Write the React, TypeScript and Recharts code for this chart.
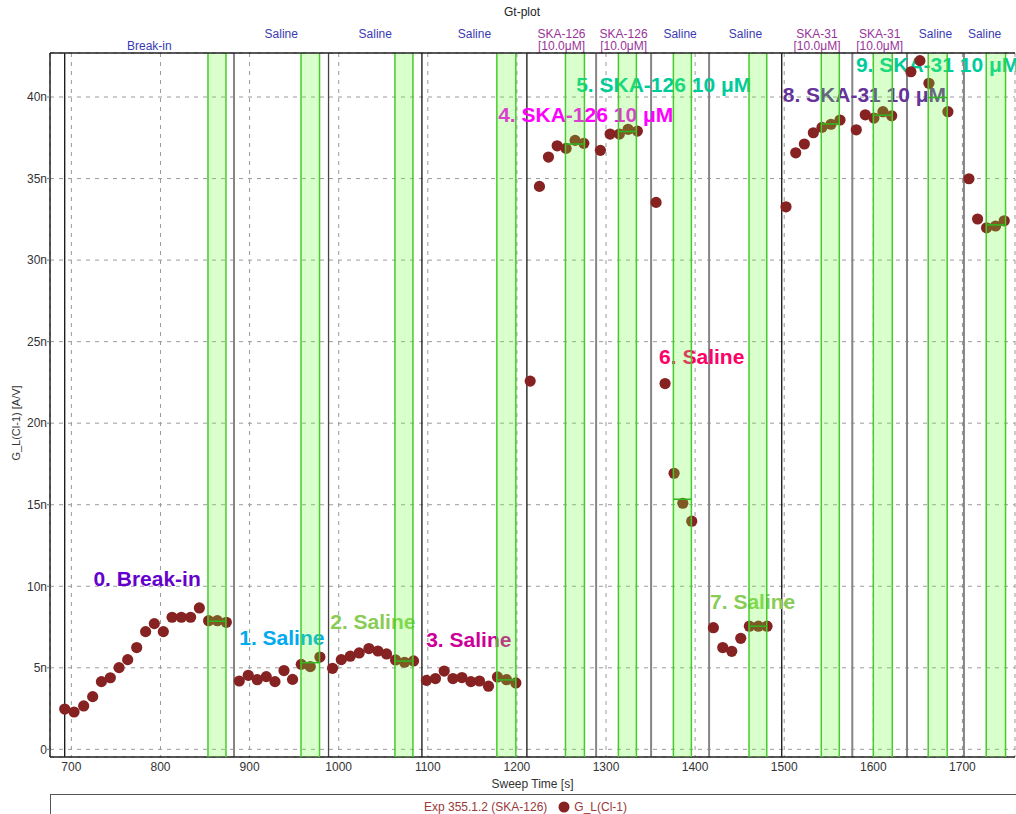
import React from 'react';
import {
  ComposedChart,
  Scatter,
  XAxis,
  YAxis,
  CartesianGrid,
  ReferenceLine,
  ReferenceArea,
  ReferenceDot,
  Legend,
} from 'recharts';

const FONT = '"Liberation Sans", Arial, Helvetica, sans-serif';

// ---------- axes ----------
const xTicks = [700, 800, 900, 1000, 1100, 1200, 1300, 1400, 1500, 1600, 1700];
const yTicks = [0, 5, 10, 15, 20, 25, 30, 35, 40];
const xDomain: [number, number] = [676, 1759];
const yDomain: [number, number] = [-0.47, 42.7];

// ---------- data: G_L(Cl-1) [nA/V] vs sweep time [s] ----------
const sweepTime = [
  692.5, 703, 713.8, 723.9, 733.7, 743.7, 753.5, 763.2, 773.3, 783.3, 793.1, 803.2, 813, 823.4, 833.8, 843.6, 854, 863.8, 873.9,
  888.4, 898.5, 908.6, 918.7, 928.5, 938.6, 948.2, 958, 968.1, 978.9,
  993.1, 1002.9, 1013, 1023, 1033.9, 1044, 1053.7, 1063.8, 1073.9, 1084,
  1098.5, 1108.6, 1118.4, 1128.2, 1138.3, 1148.4, 1158, 1168.1, 1178.2, 1188.3, 1198.8,
  1214.9, 1225.3, 1235.4, 1245.2, 1255.2, 1265.3, 1275.1,
  1293.7, 1304.6, 1315, 1324.8, 1335.2,
  1356.2, 1366.3, 1376.4, 1386.2, 1396.2,
  1420.5, 1431, 1441.1, 1451.2, 1460.9, 1471, 1480.7,
  1502, 1512.9, 1522.6, 1532.7, 1542.4, 1552.5, 1562.6,
  1580.9, 1591, 1600.7, 1610.8, 1620.6,
  1642.2, 1652.3, 1662.4, 1683.7,
  1707.3, 1717, 1727.1, 1737.2, 1746.9,
];
const conductance = [
  2.47, 2.29, 2.66, 3.23, 4.15, 4.39, 5.01, 5.5, 6.24, 7.22, 7.71, 7.22, 8.1, 8.1, 8.1, 8.67, 7.89, 7.89, 7.79,
  4.19, 4.54, 4.27, 4.46, 4.15, 4.83, 4.29, 5.21, 5.07, 5.66,
  4.97, 5.5, 5.71, 5.91, 6.18, 6.03, 5.85, 5.48, 5.34, 5.42,
  4.23, 4.34, 4.8, 4.34, 4.4, 4.15, 4.19, 3.87, 4.44, 4.27, 4.07,
  22.58, 34.52, 36.32, 37.01, 36.85, 37.34, 37.16,
  36.73, 37.73, 37.73, 38.02, 37.91,
  33.54, 22.43, 16.93, 15.09, 13.99,
  7.46, 6.24, 6.01, 6.81, 7.55, 7.55, 7.55,
  33.27, 36.58, 37.12, 37.81, 38.14, 38.33, 38.59,
  37.99, 38.91, 38.71, 39.1, 38.85,
  41.55, 42.23, 40.84, 39.1,
  34.99, 32.52, 31.98, 32.09, 32.41,
];

// ---------- segments (solution changes) ----------
const segmentBounds = [692.5, 882.5, 988.6, 1093.4, 1211.2, 1288.9, 1350.6, 1415.7, 1497.2, 1576.4, 1637.8, 1701.7, 1748];
const segmentLabels: string[][] = [
  ['', 'Break-in'],
  ['Saline'],
  ['Saline'],
  ['Saline'],
  ['SKA-126', '[10.0μM]'],
  ['SKA-126', '[10.0μM]'],
  ['Saline'],
  ['Saline'],
  ['SKA-31', '[10.0μM]'],
  ['SKA-31', '[10.0μM]'],
  ['Saline'],
  ['Saline'],
];
const boundaryColors = ['#111111', '#858585', '#444444', '#111111', '#111111', '#858585', '#858585', '#858585', '#111111', '#858585', '#858585', '#858585'];

// ---------- analysis windows ----------
const bandStart = [853.3, 957.7, 1063.1, 1177.5, 1254.5, 1313.9, 1375.6, 1460.5, 1541.6, 1600, 1661.6, 1726.7];
const bandEnd = [873.5, 978.5, 1083.3, 1198.8, 1275.8, 1334.1, 1395.8, 1480.4, 1561.8, 1621.3, 1682.9, 1748.4];

// ---------- annotations ----------
const annotationText = [
  '0. Break-in',
  '1. Saline',
  '2. Saline',
  '3. Saline',
  '4. SKA-126 10 μM',
  '5. SKA-126 10 μM',
  '6. Saline',
  '7. Saline',
  '8. SKA-31 10 μM',
  '9. SKA-31 10 μM',
];
const annotationX = [724.7, 888.4, 990.5, 1098.2, 1179, 1266.5, 1359.6, 1416.8, 1498.3, 1580.5];
const annotationY = [10.0, 6.38, 7.4, 6.28, 38.48, 40.33, 23.6, 8.63, 39.72, 41.55];
const annotationColors = ['#6600cc', '#00aaee', '#88cc55', '#cc0099', '#ff00ff', '#00cc99', '#ff0066', '#88cc55', '#663399', '#00cc99'];

const points = sweepTime.map((t, i) => ({ t, g: conductance[i] }));

const bandMeans = bandStart.map((s, i) => {
  const e = bandEnd[i];
  const inside = points.filter((p) => p.t >= s - 1.5 && p.t <= e + 1.5).map((p) => p.g);
  return inside.reduce((a, b) => a + b, 0) / Math.max(1, inside.length);
});

const DOT_COLOR = '#862222';

const DotShape = (props: any) => {
  const { cx, cy } = props;
  if (cx == null || cy == null) return null;
  return <circle cx={cx} cy={cy} r={5.6} fill={DOT_COLOR} />;
};

const makeSegmentLabel = (lines: string[]) => (props: any) => {
  const vb = props.viewBox || {};
  const cx = vb.x + vb.width / 2;
  const isDrug = lines[0].startsWith('SKA');
  const color = isDrug ? '#993399' : '#3a3ab4';
  return (
    <g>
      {lines.map((ln, k) =>
        ln ? (
          <text
            key={k}
            x={cx}
            y={vb.y - 15 + k * 12}
            textAnchor="middle"
            fontFamily={FONT}
            fontSize={12}
            fill={color}
          >
            {ln}
          </text>
        ) : null
      )}
    </g>
  );
};

const makeAnnotation = (text: string, color: string) => (props: any) => {
  const { cx, cy } = props;
  if (cx == null || cy == null) return null;
  return (
    <text x={cx} y={cy} fontFamily={FONT} fontSize={21} fontWeight="bold" fill={color}>
      {text}
    </text>
  );
};

const LegendBox = () => (
  <div
    style={{
      boxSizing: 'border-box',
      width: 966,
      height: 20,
      borderTop: '1px solid #555',
      borderLeft: '1px solid #555',
      display: 'flex',
      justifyContent: 'center',
      alignItems: 'center',
      paddingRight: 16,
      paddingTop: 4,
      fontFamily: FONT,
      fontSize: 12,
      color: '#9b3838',
      background: '#fff',
    }}
  >
    <span>Exp 355.1.2 (SKA-126)</span>
    <svg width={12} height={12} style={{ marginLeft: 11, marginRight: 4 }}>
      <circle cx={6} cy={6} r={5.5} fill={DOT_COLOR} />
    </svg>
    <span>G_L(Cl-1)</span>
  </div>
);

export default function App() {
  return (
    <div style={{ position: 'absolute', left: 0, top: 0, width: 1016, height: 814, background: '#fff' }}>
      <ComposedChart
        width={1016}
        height={814}
        margin={{ top: 53, right: 1, bottom: 25, left: 0 }}
        style={{ fontFamily: FONT }}
      >
        <text x={522} y={16} textAnchor="middle" fontFamily={FONT} fontSize={12} fill="#222">
          Gt-plot
        </text>
        <CartesianGrid stroke="#9a9a9a" strokeDasharray="4 5" />
        <XAxis
          dataKey="t"
          type="number"
          domain={xDomain}
          ticks={xTicks}
          allowDataOverflow
          height={32}
          tickLine={false}
          tickSize={0}
          tickMargin={5}
          axisLine={{ stroke: '#222', strokeWidth: 1.5 }}
          tick={{ fontSize: 12, fill: '#333', fontFamily: FONT }}
          label={{
            content: (p: any) => {
              const vb = p.viewBox || {};
              return (
                <text x={vb.x + vb.width / 2} y={vb.y + 31} textAnchor="middle" fontFamily={FONT} fontSize={12} fill="#333">
                  Sweep Time [s]
                </text>
              );
            },
          }}
        />
        <YAxis
          dataKey="g"
          type="number"
          domain={yDomain}
          ticks={yTicks}
          allowDataOverflow
          width={50}
          tickSize={3}
          tickMargin={0}
          tickLine={{ stroke: '#777' }}
          axisLine={{ stroke: '#222', strokeWidth: 1.5 }}
          tick={{ fontSize: 12, fill: '#333', fontFamily: FONT }}
          tickFormatter={(v: number) => (v === 0 ? '0' : `${v}n`)}
          label={{
            content: (p: any) => {
              const vb = p.viewBox || {};
              const cx = vb.x + 16;
              const cy = vb.y + vb.height / 2 + 18;
              return (
                <text
                  x={cx}
                  y={cy}
                  textAnchor="middle"
                  dominantBaseline="central"
                  transform={`rotate(-90 ${cx} ${cy})`}
                  fontFamily={FONT}
                  fontSize={11}
                  fill="#333"
                >
                  G_L(Cl-1) [A/V]
                </text>
              );
            },
          }}
        />

        {segmentLabels.map((lines, i) => (
          <ReferenceArea
            key={`seg-${i}`}
            x1={segmentBounds[i]}
            x2={segmentBounds[i + 1]}
            y1={yDomain[0]}
            y2={yDomain[1]}
            fill="none"
            fillOpacity={0}
            stroke="none"
            ifOverflow="visible"
            zIndex={350}
            label={{ content: makeSegmentLabel(lines) }}
          />
        ))}

        {boundaryColors.map((c, i) => (
          <ReferenceLine
            key={`bd-${i}`}
            x={segmentBounds[i]}
            stroke={c}
            strokeWidth={c === '#858585' ? 2 : 1.3}
            zIndex={400}
          />
        ))}

        {annotationText.map((txt, i) => (
          <ReferenceDot
            key={`an-${i}`}
            x={annotationX[i]}
            y={annotationY[i]}
            r={0}
            ifOverflow="visible"
            zIndex={500}
            shape={makeAnnotation(txt, annotationColors[i])}
          />
        ))}

        <Scatter
          name="G_L(Cl-1)"
          data={points}
          dataKey="g"
          fill={DOT_COLOR}
          shape={DotShape}
          isAnimationActive={false}
          zIndex={600}
        />

        {bandStart.map((s, i) => (
          <ReferenceArea
            key={`band-${i}`}
            x1={s}
            x2={bandEnd[i]}
            y1={yDomain[0]}
            y2={yDomain[1]}
            fill="#66ff33"
            fillOpacity={0.25}
            stroke="none"
            ifOverflow="visible"
            zIndex={650}
          />
        ))}
        {bandStart.map((s, i) => (
          <ReferenceLine key={`bl-${i}`} x={s} stroke="#44cc2a" strokeWidth={1.5} zIndex={660} />
        ))}
        {bandEnd.map((e, i) => (
          <ReferenceLine key={`br-${i}`} x={e} stroke="#44cc2a" strokeWidth={1.5} ifOverflow="visible" zIndex={660} />
        ))}
        {bandMeans.map((m, i) => (
          <ReferenceLine
            key={`mean-${i}`}
            segment={[
              { x: bandStart[i], y: m },
              { x: bandEnd[i], y: m },
            ]}
            stroke="#2fb81e"
            strokeWidth={1.5}
            ifOverflow="visible"
            zIndex={670}
          />
        ))}
        <ReferenceLine y={yDomain[1]} stroke="#222" strokeWidth={1.5} zIndex={680} />

        <Legend
          layout="horizontal"
          verticalAlign="middle"
          align="center"
          wrapperStyle={{ top: 794, left: 50, width: 966, height: 20 }}
          content={() => <LegendBox />}
        />
      </ComposedChart>
    </div>
  );
}
